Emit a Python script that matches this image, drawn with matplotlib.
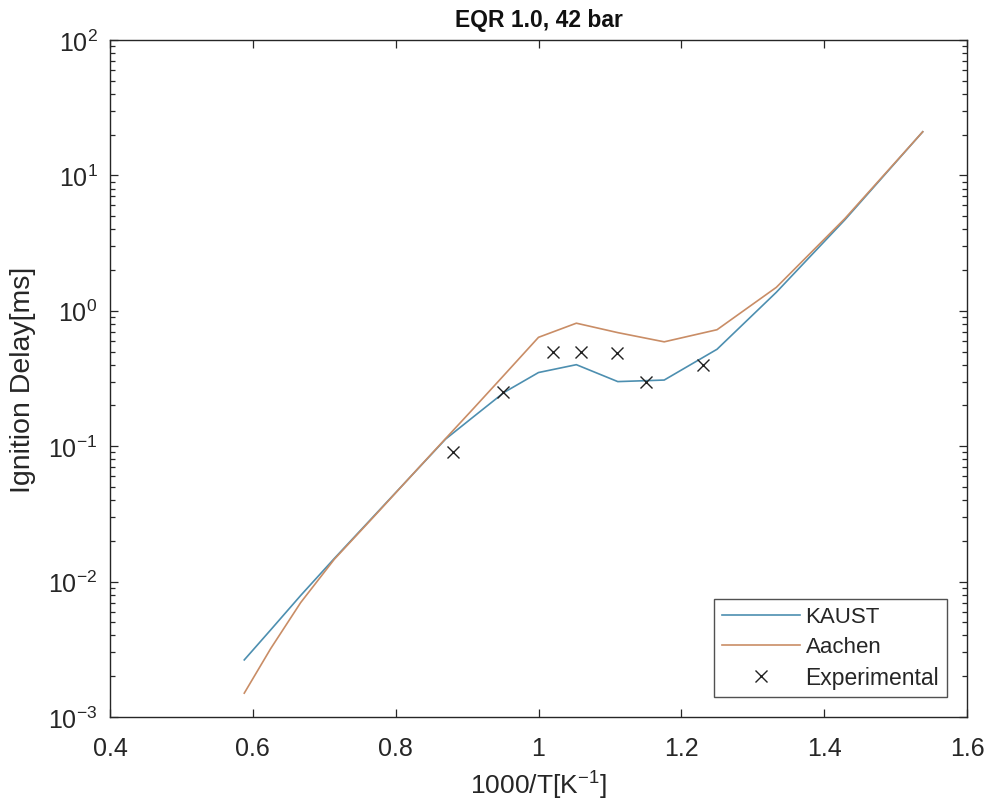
import math
import matplotlib
matplotlib.use("Agg")
import matplotlib.pyplot as plt
from matplotlib.ticker import LogLocator, NullFormatter, FixedLocator, FuncFormatter
from matplotlib import font_manager

plt.rcParams['font.family'] = ['Liberation Sans', 'DejaVu Sans']
plt.rcParams['mathtext.fontset'] = 'custom'
plt.rcParams['mathtext.rm'] = 'Liberation Sans'
plt.rcParams['mathtext.it'] = 'Liberation Sans:italic'
plt.rcParams['mathtext.bf'] = 'Liberation Sans:bold'

# 1000/T grid for the simulations
x_sim = [0.588, 0.625, 0.667, 0.714, 0.769, 0.833, 0.870, 0.909, 0.952,
         1.000, 1.053, 1.111, 1.176, 1.250, 1.333, 1.429, 1.538]
kaust = [0.00264, 0.0044, 0.0079, 0.0148, 0.0303, 0.0698, 0.113, 0.165, 0.25,
         0.35, 0.40, 0.30, 0.308, 0.52, 1.37, 4.7, 21.0]
aachen = [0.0015, 0.0032, 0.0070, 0.0146, 0.0300, 0.070, 0.114, 0.19, 0.336,
          0.637, 0.81, 0.69, 0.59, 0.725, 1.49, 4.8, 21.0]

x_exp = [0.88, 0.95, 1.02, 1.06, 1.11, 1.15, 1.23]
y_exp = [0.09, 0.25, 0.50, 0.50, 0.49, 0.30, 0.40]

x_ticks = [0.4, 0.6, 0.8, 1.0, 1.2, 1.4, 1.6]
x_tick_labels = ['0.4', '0.6', '0.8', '1', '1.2', '1.4', '1.6']

available = {f.name for f in font_manager.fontManager.ttflist}
title_fams = [f for f in ['Liberation Sans Narrow', 'DejaVu Sans Condensed',
                          'Liberation Sans'] if f in available] + ['DejaVu Sans']

fig = plt.figure(figsize=(9.91, 8.12), dpi=100)
ax = fig.add_axes([110/991, 1-718/812, (967-110)/991, (718-41)/812])

ax.plot(x_sim, kaust, color='#4d8fb0', lw=1.2, label='KAUST')
ax.plot(x_sim, aachen, color='#c98d66', lw=1.2, label='Aachen')
ax.plot(x_exp, y_exp, linestyle='none', marker='x', color='#222222',
        markersize=9, markeredgewidth=1.0, label='Experimental')

ax.set_yscale('log')
ax.set_xlim(0.4, 1.6)
ax.set_ylim(1e-3, 1e2)
ax.xaxis.set_major_locator(FixedLocator(x_ticks))
ax.set_xticklabels(x_tick_labels)
ax.yaxis.set_major_locator(LogLocator(base=10, numticks=10))
ax.yaxis.set_major_formatter(FuncFormatter(
    lambda v, _: r'$\mathregular{10^{%d}}$' % round(math.log10(v))))
ax.yaxis.set_minor_locator(LogLocator(base=10, subs=range(2, 10), numticks=20))
ax.yaxis.set_minor_formatter(NullFormatter())

ax.tick_params(which='both', direction='in', top=True, right=True,
               labelsize=18, colors='#262626', width=0.9)
ax.tick_params(which='major', length=6)
ax.tick_params(which='minor', length=3.5)
ax.tick_params(axis='x', pad=14)
ax.tick_params(axis='y', pad=9)
for s in ax.spines.values():
    s.set_color('#262626')
    s.set_linewidth(1.0)

ax.set_xlabel(r'$\mathregular{1000/T[K^{-1}]}$', fontsize=19, color='#262626', labelpad=6)
ax.set_ylabel('Ignition Delay[ms]', fontsize=20.5, color='#262626', labelpad=9)
ax.set_title('EQR 1.0, 42 bar', fontsize=16.5, fontweight='bold',
             family=title_fams, pad=10, color='#111111')

leg = ax.legend(loc='lower right', fontsize=16, frameon=True, fancybox=False,
                edgecolor='#262626', handlelength=3.5, borderaxespad=0.9,
                handletextpad=0.25, labelspacing=0.4, borderpad=0.35)
leg.get_frame().set_linewidth(1.0)
leg.get_texts()[2].set_fontsize(16.5)
for t in leg.get_texts():
    t.set_color('#262626')

fig.savefig('out.png', dpi=100)
